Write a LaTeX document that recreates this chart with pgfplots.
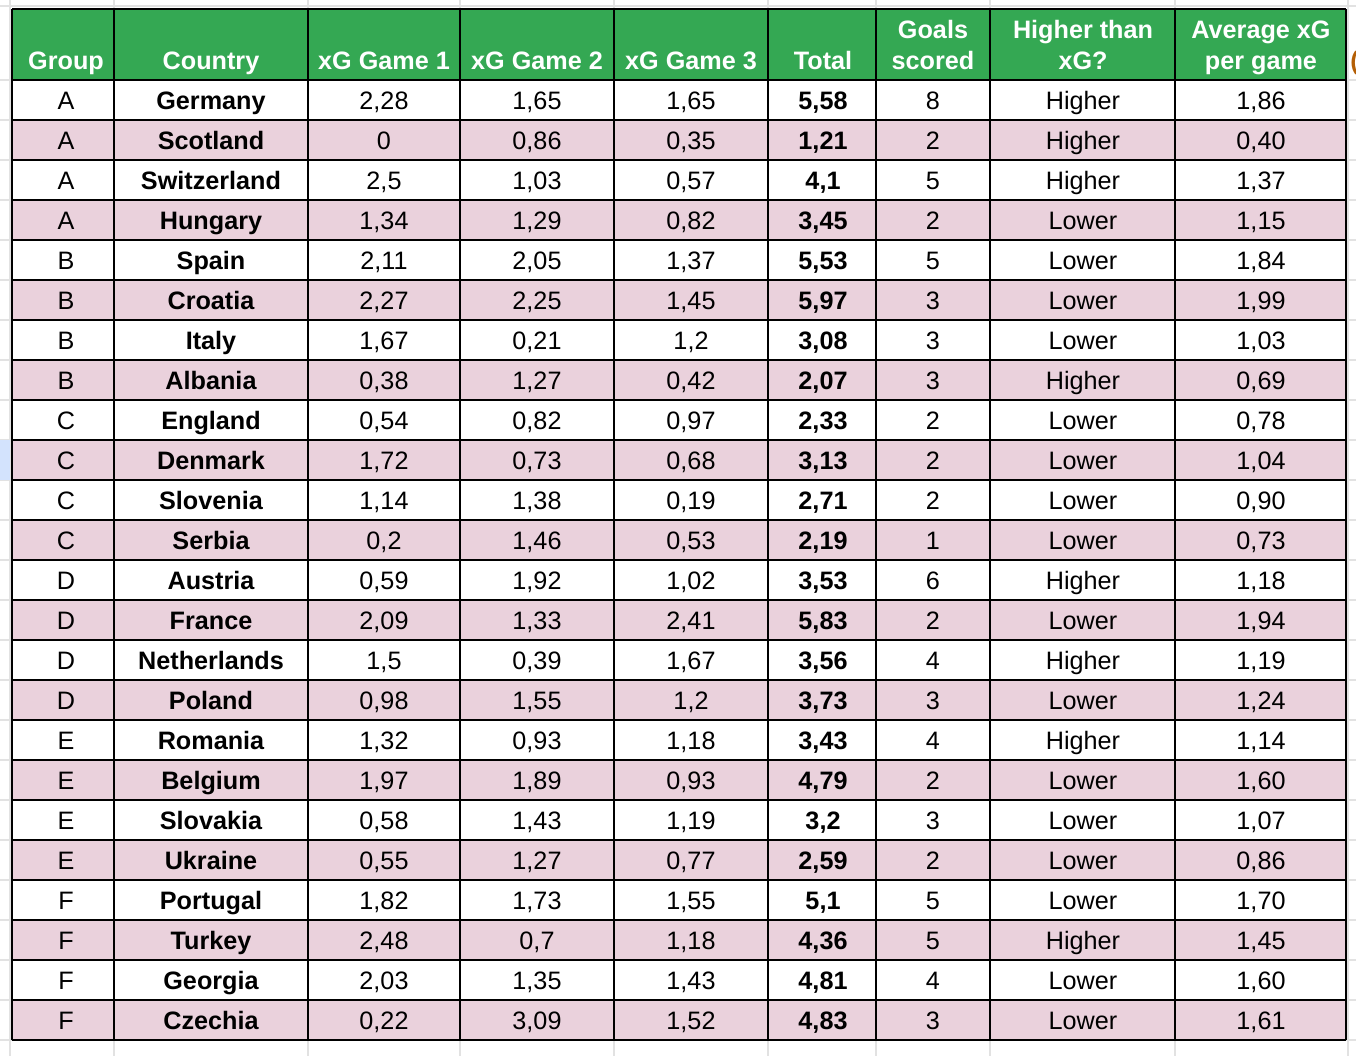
\documentclass[border=0pt]{standalone}
\usepackage{fontspec}
\setmainfont{Liberation Sans}
\usepackage{pgfplots}
\usepackage{pgfplotstable}
\pgfplotsset{compat=1.18}

\definecolor{headgreen}{HTML}{34A853}
\definecolor{rowpink}{HTML}{EAD1DC}
\definecolor{sheetgrid}{HTML}{E2E2E2}
\definecolor{selblue}{HTML}{D3E3FD}
\definecolor{cutorange}{HTML}{B45F06}

\tikzset{head/.style={anchor=base, inner sep=0pt, text=white,
    font=\fontsize{12.6}{15}\selectfont\bfseries}}

\pgfplotstableread{
row group country g1 g2 g3 total goals higher avg
1 A Germany 2.28 1.65 1.65 5.58 8 Higher 1.86
2 A Scotland 0 0.86 0.35 1.21 2 Higher 0.40
3 A Switzerland 2.5 1.03 0.57 4.1 5 Higher 1.37
4 A Hungary 1.34 1.29 0.82 3.45 2 Lower 1.15
5 B Spain 2.11 2.05 1.37 5.53 5 Lower 1.84
6 B Croatia 2.27 2.25 1.45 5.97 3 Lower 1.99
7 B Italy 1.67 0.21 1.2 3.08 3 Lower 1.03
8 B Albania 0.38 1.27 0.42 2.07 3 Higher 0.69
9 C England 0.54 0.82 0.97 2.33 2 Lower 0.78
10 C Denmark 1.72 0.73 0.68 3.13 2 Lower 1.04
11 C Slovenia 1.14 1.38 0.19 2.71 2 Lower 0.90
12 C Serbia 0.2 1.46 0.53 2.19 1 Lower 0.73
13 D Austria 0.59 1.92 1.02 3.53 6 Higher 1.18
14 D France 2.09 1.33 2.41 5.83 2 Lower 1.94
15 D Netherlands 1.5 0.39 1.67 3.56 4 Higher 1.19
16 D Poland 0.98 1.55 1.2 3.73 3 Lower 1.24
17 E Romania 1.32 0.93 1.18 3.43 4 Higher 1.14
18 E Belgium 1.97 1.89 0.93 4.79 2 Lower 1.60
19 E Slovakia 0.58 1.43 1.19 3.2 3 Lower 1.07
20 E Ukraine 0.55 1.27 0.77 2.59 2 Lower 0.86
21 F Portugal 1.82 1.73 1.55 5.1 5 Lower 1.70
22 F Turkey 2.48 0.7 1.18 4.36 5 Higher 1.45
23 F Georgia 2.03 1.35 1.43 4.81 4 Lower 1.60
24 F Czechia 0.22 3.09 1.52 4.83 3 Lower 1.61
}\xgtable

\begin{document}
\begin{tikzpicture}
\useasboundingbox (0,0) rectangle (678pt,528pt);
\begin{axis}[
    at={(0,0)}, anchor=south west,
    width=678pt, height=528pt, scale only axis,
    xmin=0, xmax=1356, ymin=0, ymax=1056,
    y dir=reverse,
    hide axis, clip=false,
    /pgf/number format/use comma,
    /pgf/number format/assume math mode=true,
    every node near coord/.append style={anchor=base, inner sep=0pt,
        font=\fontsize{12.6}{15}\selectfont, text=black},
    cell/.style={draw=none, nodes near coords},
]

% spreadsheet grid outside the table
\pgfplotsinvokeforeach{10,114,308,460,614,768,876,990,1175,1348}{
  \draw[sheetgrid, line width=1pt] (axis cs:#1,0) -- (axis cs:#1,1056);
}
\pgfplotsinvokeforeach{6,80,120,160,200,240,280,320,360,400,440,480,520,560,600,640,680,720,760,800,840,880,920,960,1000,1040}{
  \draw[sheetgrid, line width=1pt] (axis cs:0,#1) -- (axis cs:1356,#1);
}
\fill[selblue] (axis cs:0,440) rectangle (axis cs:10,480);

% table body
\fill[white] (axis cs:12,80) rectangle (axis cs:1346,1040);
\fill[headgreen] (axis cs:12,9) rectangle (axis cs:1346,80);
\pgfplotsinvokeforeach{1,...,12}{
  \fill[rowpink] (axis cs:12,{40+80*#1}) rectangle (axis cs:1346,{80+80*#1});
}
\pgfplotsinvokeforeach{12,114,308,460,614,768,876,990,1175,1346}{
  \draw[black, line width=1.1pt] (axis cs:#1,9) -- (axis cs:#1,1040);
}
\pgfplotsinvokeforeach{9,80,120,160,200,240,280,320,360,400,440,480,520,560,600,640,680,720,760,800,840,880,920,960,1000,1040}{
  \draw[black, line width=1.1pt] (axis cs:12,#1) -- (axis cs:1346,#1);
}

% header
\node[head] at (axis cs:66,69) {Group};
\node[head] at (axis cs:211,69) {Country};
\node[head] at (axis cs:384,69) {xG Game 1};
\node[head] at (axis cs:537,69) {xG Game 2};
\node[head] at (axis cs:691,69) {xG Game 3};
\node[head] at (axis cs:823,69) {Total};
\node[head] at (axis cs:933,38) {Goals};
\node[head] at (axis cs:933,69) {scored};
\node[head] at (axis cs:1083,38) {Higher than};
\node[head] at (axis cs:1083,69) {xG?};
\node[head] at (axis cs:1261,38) {Average xG};
\node[head] at (axis cs:1261,69) {per game};
\node[anchor=base west, inner sep=0pt, text=cutorange,
  font=\fontsize{12.6}{15}\selectfont\bfseries] at (axis cs:1350,69) {(};

% cells
\addplot[cell, point meta=explicit symbolic]
  table[x expr=66, y expr=69+40*\thisrow{row}, meta=group] {\xgtable};
\addplot[cell, point meta=explicit symbolic,
  every node near coord/.append style={font=\fontsize{12.6}{15}\selectfont\bfseries}]
  table[x expr=211, y expr=69+40*\thisrow{row}, meta=country] {\xgtable};
\addplot[cell, point meta=explicit]
  table[x expr=384, y expr=69+40*\thisrow{row}, meta=g1] {\xgtable};
\addplot[cell, point meta=explicit]
  table[x expr=537, y expr=69+40*\thisrow{row}, meta=g2] {\xgtable};
\addplot[cell, point meta=explicit]
  table[x expr=691, y expr=69+40*\thisrow{row}, meta=g3] {\xgtable};
\addplot[cell, point meta=explicit,
  every node near coord/.append style={font=\fontsize{12.6}{15}\selectfont\bfseries}]
  table[x expr=823, y expr=69+40*\thisrow{row}, meta=total] {\xgtable};
\addplot[cell, point meta=explicit]
  table[x expr=933, y expr=69+40*\thisrow{row}, meta=goals] {\xgtable};
\addplot[cell, point meta=explicit symbolic]
  table[x expr=1083, y expr=69+40*\thisrow{row}, meta=higher] {\xgtable};
\addplot[cell, point meta=explicit,
  /pgf/number format/fixed, /pgf/number format/fixed zerofill,
  /pgf/number format/precision=2]
  table[x expr=1261, y expr=69+40*\thisrow{row}, meta=avg] {\xgtable};

\end{axis}
\end{tikzpicture}
\end{document}
